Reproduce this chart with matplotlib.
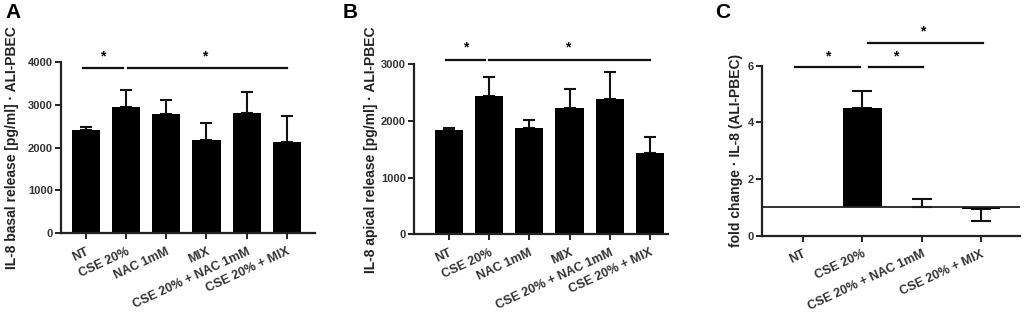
import numpy as np
import matplotlib
matplotlib.use("Agg")
import matplotlib.pyplot as plt

# panel A / B groups
groups_ab = ["NT", "CSE 20%", "NAC 1mM", "MIX", "CSE 20% + NAC 1mM", "CSE 20% + MIX"]
basal_mean = [2400, 2940, 2780, 2175, 2800, 2120]
basal_err = [80, 405, 330, 405, 505, 615]
apical_mean = [1840, 2445, 1870, 2235, 2385, 1440]
apical_err = [40, 325, 145, 335, 480, 270]

# panel C groups (fold change, bars drawn from baseline 1)
groups_c = ["NT", "CSE 20%", "CSE 20% + NAC 1mM", "CSE 20% + MIX"]
fold_mean = [1.0, 4.5, 1.02, 0.93]
fold_err = [0.0, 0.62, 0.26, 0.40]

plt.rcParams['font.family'] = ['Liberation Sans', 'DejaVu Sans']
plt.rcParams['font.weight'] = 'bold'

fig = plt.figure(figsize=(10.24, 3.13), dpi=100)
W, H = 1024, 313


def px_axes(l, r, b, t):
    return fig.add_axes([l / W, 1 - b / H, (r - l) / W, (b - t) / H])


def style(ax, ylabel, yticks, label_x):
    for s in ['top', 'right']:
        ax.spines[s].set_visible(False)
    for s in ['left', 'bottom']:
        ax.spines[s].set_linewidth(1.6)
        ax.spines[s].set_color('#222222')
    ax.tick_params(axis='both', width=1.4, length=4, colors='#222222',
                   labelsize=8, labelcolor='#333333')
    ax.tick_params(axis='y', pad=2)
    ax.tick_params(axis='x', pad=5, labelsize=9)
    ax.set_yticks(yticks)
    ax.set_ylabel(ylabel, fontsize=10, fontweight='bold', color='#222222')
    ax.yaxis.set_label_coords(label_x, 0.5)


def sig(ax, x0, x1, y):
    ax.plot([x0, x1], [y, y], color='#111111', lw=1.6, clip_on=False)


def star(ax, x, y):
    ax.text(x, y, '*', ha='center', va='center', fontsize=10, fontweight='bold')


def bar_panel(ax, mean, err, labels, width):
    x = np.arange(len(mean))
    ax.bar(x, mean, width=width, color='black', zorder=2)
    ax.errorbar(x, mean, yerr=[np.zeros(len(err)), err], fmt='none', ecolor='#111111',
                elinewidth=1.5, capsize=4.5, capthick=1.5, zorder=1)
    ax.set_xticks(x)
    ax.set_xticklabels(labels, rotation=25, ha='right', rotation_mode='anchor')


# Panel A
axA = px_axes(61, 315, 233, 62)
bar_panel(axA, basal_mean, basal_err, groups_ab, 0.7)
axA.set_xlim(-0.62, 5.70)
axA.set_ylim(0, 4000)
style(axA, 'IL-8 basal release [pg/ml] · ALI-PBEC', [0, 1000, 2000, 3000, 4000], -0.165)
sig(axA, -0.07, 0.93, 3855)
sig(axA, 1.05, 5.0, 3855)
star(axA, 0.42, 4130)
star(axA, 2.95, 4130)
fig.text(5 / W, 1 - 13 / H, 'A', fontsize=15, fontweight='bold', va='center')

# Panel B
axB = px_axes(414, 668, 234.3, 64.3)
bar_panel(axB, apical_mean, apical_err, groups_ab, 0.7)
axB.set_xlim(-0.87, 5.45)
axB.set_ylim(0, 3000)
style(axB, 'IL-8 apical release [pg/ml] · ALI-PBEC', [0, 1000, 2000, 3000], -0.14)
sig(axB, -0.07, 0.9, 3077)
sig(axB, 0.99, 5.0, 3077)
star(axB, 0.42, 3290)
star(axB, 2.95, 3290)
fig.text(343 / W, 1 - 13 / H, 'B', fontsize=15, fontweight='bold', va='center')

# Panel C
axC = px_axes(762, 1020, 235.7, 65.7)
xc = np.arange(len(fold_mean))
heights = [m - 1 for m in fold_mean]
axC.bar(xc, heights, bottom=1, width=0.65, color='black', zorder=2)
up = [e if m >= 1 else 0 for m, e in zip(fold_mean, fold_err)]
dn = [e if m < 1 else 0 for m, e in zip(fold_mean, fold_err)]
axC.errorbar(xc[1:], fold_mean[1:], yerr=[dn[1:], up[1:]], fmt='none', ecolor='#111111',
             elinewidth=1.5, capsize=7, capthick=1.5, zorder=1)
axC.axhline(1, color='#222222', lw=1.3, zorder=3)
axC.set_xticks(xc)
axC.set_xticklabels(groups_c, rotation=25, ha='right', rotation_mode='anchor')
axC.set_xlim(-0.69, 3.66)
axC.set_ylim(0, 6)
style(axC, 'fold change · IL-8 (ALI-PBEC)', [0, 2, 4, 6], -0.074)
sig(axC, -0.13, 0.97, 5.96)
sig(axC, 1.12, 2.02, 5.96)
sig(axC, 1.1, 3.03, 6.81)
star(axC, 0.42, 6.34)
star(axC, 1.57, 6.34)
star(axC, 2.02, 7.2)
fig.text(715 / W, 1 - 13 / H, 'C', fontsize=15, fontweight='bold', va='center')

fig.savefig('out.png', dpi=100)
